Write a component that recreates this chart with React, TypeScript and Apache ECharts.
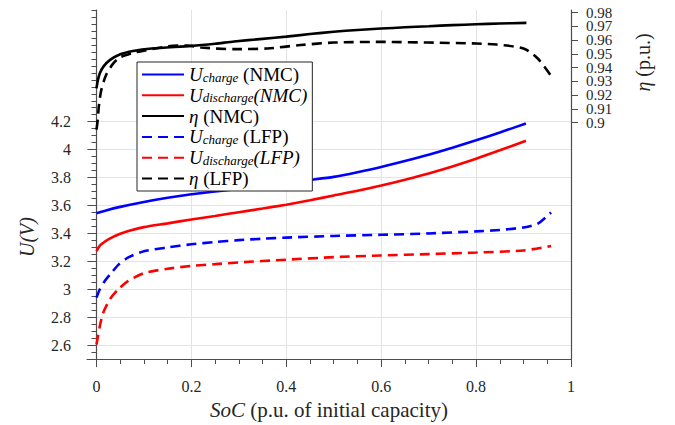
import React, { useEffect, useRef } from "react";
import * as echarts from "echarts";

const FONT = "Liberation Serif, DejaVu Serif, serif";

// ---- data ----
const socChargeNMC = [0, 0.02, 0.05, 0.1, 0.15, 0.2, 0.25, 0.3, 0.35, 0.4, 0.45, 0.5, 0.55, 0.6, 0.65, 0.7, 0.75, 0.8, 0.85, 0.905];
const uChargeNMC = [3.545, 3.565, 3.59, 3.625, 3.655, 3.68, 3.7, 3.72, 3.74, 3.762, 3.783, 3.805, 3.838, 3.875, 3.918, 3.963, 4.013, 4.067, 4.123, 4.187];

const socDischargeNMC = [0, 0.005, 0.01, 0.025, 0.05, 0.075, 0.1, 0.15, 0.2, 0.25, 0.3, 0.35, 0.4, 0.45, 0.5, 0.55, 0.6, 0.65, 0.7, 0.75, 0.8, 0.85, 0.905];
const uDischargeNMC = [3.274, 3.303, 3.322, 3.358, 3.398, 3.425, 3.445, 3.472, 3.5, 3.525, 3.552, 3.578, 3.606, 3.637, 3.672, 3.705, 3.743, 3.785, 3.83, 3.88, 3.935, 3.995, 4.063];

const socEtaNMC = [0, 0.003, 0.007, 0.015, 0.028, 0.05, 0.077, 0.116, 0.2, 0.25, 0.29, 0.35, 0.4, 0.45, 0.5, 0.55, 0.6, 0.65, 0.7, 0.75, 0.8, 0.85, 0.906];
const etaNMC = [0.925, 0.931, 0.936, 0.941, 0.9455, 0.9498, 0.9522, 0.954, 0.9559, 0.9575, 0.9591, 0.961, 0.9626, 0.9645, 0.9662, 0.9675, 0.9685, 0.9694, 0.9702, 0.971, 0.9716, 0.9722, 0.9726];

const socChargeLFP = [0, 0.007, 0.0175, 0.032, 0.046, 0.067, 0.1, 0.15, 0.2, 0.25, 0.3, 0.35, 0.4, 0.5, 0.6, 0.7, 0.8, 0.85, 0.9, 0.93, 0.958];
const uChargeLFP = [2.94, 3.0, 3.06, 3.12, 3.175, 3.228, 3.272, 3.3, 3.322, 3.338, 3.352, 3.362, 3.37, 3.382, 3.39, 3.4, 3.415, 3.425, 3.443, 3.47, 3.55];

const socDischargeLFP = [0, 0.007, 0.014, 0.028, 0.046, 0.067, 0.1, 0.15, 0.2, 0.25, 0.3, 0.4, 0.5, 0.6, 0.7, 0.8, 0.9, 0.958];
const uDischargeLFP = [2.604, 2.736, 2.83, 2.927, 3.0, 3.06, 3.116, 3.147, 3.167, 3.18, 3.192, 3.212, 3.23, 3.242, 3.252, 3.263, 3.278, 3.31];

const socEtaLFP = [0, 0.002, 0.005, 0.01, 0.02, 0.035, 0.05, 0.08, 0.1, 0.15, 0.19, 0.22, 0.29, 0.36, 0.43, 0.5, 0.6, 0.7, 0.8, 0.843, 0.9, 0.93, 0.958];
const etaLFP = [0.895, 0.9, 0.912, 0.9236, 0.9345, 0.943, 0.9476, 0.951, 0.9524, 0.9555, 0.9562, 0.9547, 0.9535, 0.954, 0.9565, 0.9583, 0.9588, 0.9583, 0.9576, 0.9569, 0.954, 0.9467, 0.934];

// ---- ticks ----
const xTickLabels = [0, 0.2, 0.4, 0.6, 0.8, 1];
const uTickLabels = [2.6, 2.8, 3, 3.2, 3.4, 3.6, 3.8, 4, 4.2];
const etaTickLabels = [0.9, 0.91, 0.92, 0.93, 0.94, 0.95, 0.96, 0.97, 0.98];
const etaLabelsEven = [0.9, 0.92, 0.94, 0.96, 0.98];
const etaLabelsOdd = [0.91, 0.93, 0.95, 0.97];
const xMinorTicks = Array.from({ length: 21 }, (_, i) => +(i * 0.05).toFixed(2));
const uMinorTicks = Array.from({ length: 51 }, (_, i) => +(2.5 + i * 0.05).toFixed(2));

const seriesNames = ["UcNMC", "UdNMC", "etaNMC", "UcLFP", "UdLFP", "etaLFP"];
const legendLabels: Record<string, string> = {
  UcNMC: "{u|U}{s|charge} {n|(NMC)}",
  UdNMC: "{u|U}{s|discharge}{u|(NMC)}",
  etaNMC: "{u|η} {n|(NMC)}",
  UcLFP: "{u|U}{s|charge} {n|(LFP)}",
  UdLFP: "{u|U}{s|discharge}{u|(LFP)}",
  etaLFP: "{u|η} {n|(LFP)}",
};

const zip = (xs: number[], ys: number[]) => xs.map((x, i) => [x, ys[i]]);
const fmt = (v: number) => String(+(+v).toFixed(2));

const AXIS_COLOR = "#4d4d4d";
const TEXT_COLOR = "#262626";
const GRID_COLOR = "#e3e3e3";
const DASH = [10, 6];
const ETA_MIN = 0.728;
const ETA_MAX = 0.982;

export default function App() {
  const ref = useRef<HTMLDivElement>(null);
  useEffect(() => {
    if (!ref.current) return;
    const chart = echarts.init(ref.current, undefined, { renderer: "svg" });
    const mk = (name: string, data: number[][], color: string, dashed: boolean, yAxisIndex: number) => ({
      name,
      type: "line",
      data,
      yAxisIndex,
      xAxisIndex: 0,
      symbol: "none",
      showSymbol: false,
      smooth: 0.25,
      color,
      lineStyle: { color, width: 2.6, type: dashed ? DASH : "solid" },
      z: 3,
    });
    const etaLabelStyle = {
      formatter: fmt,
      margin: 15,
      fontSize: 15,
      lineHeight: 13,
      color: TEXT_COLOR,
      fontFamily: FONT,
      showMinLabel: true,
      showMaxLabel: true,
    };
    chart.setOption({
      animation: false,
      backgroundColor: "#fff",
      textStyle: { fontFamily: FONT },
      grid: { left: 87, right: 104, top: 10, bottom: 65.5, containLabel: false },
      legend: {
        orient: "vertical",
        left: 137,
        top: 62,
        padding: [3, 5, 3, 4],
        itemWidth: 42,
        itemHeight: 14,
        itemGap: 1.8,
        backgroundColor: "#fff",
        borderColor: "#262626",
        borderWidth: 1,
        borderRadius: 0,
        itemStyle: { opacity: 0 },
        data: seriesNames,
        formatter: (name: string) => legendLabels[name],
        textStyle: {
          fontFamily: FONT,
          fontSize: 19,
          color: "#000",
          rich: {
            u: { fontStyle: "italic", fontSize: 19, lineHeight: 18, fontFamily: FONT, color: "#000" },
            n: { fontSize: 19, lineHeight: 18, fontFamily: FONT, color: "#000" },
            s: { fontStyle: "italic", fontSize: 13, lineHeight: 12, verticalAlign: "bottom", fontFamily: FONT, color: "#000" },
          },
        },
      },
      xAxis: [
        {
          type: "value",
          min: -0.02,
          max: 1,
          position: "bottom",
          axisLine: { show: true, lineStyle: { color: AXIS_COLOR, width: 1.2 } },
          axisTick: { show: true, customValues: xTickLabels, length: 8, lineStyle: { color: AXIS_COLOR } },
          axisLabel: {
            customValues: xTickLabels,
            formatter: fmt,
            margin: 19,
            fontSize: 16,
            color: TEXT_COLOR,
            fontFamily: FONT,
            showMinLabel: true,
            showMaxLabel: true,
          },
          splitLine: { show: true, lineStyle: { color: GRID_COLOR, width: 1 } },
          name: "{i|SoC} (p.u. of initial capacity)",
          nameLocation: "middle",
          nameGap: 37,
          nameTextStyle: {
            fontSize: 21,
            color: TEXT_COLOR,
            fontFamily: FONT,
            rich: { i: { fontStyle: "italic", fontSize: 21, fontFamily: FONT, color: TEXT_COLOR } },
          },
        },
        {
          type: "value",
          min: -0.02,
          max: 1,
          position: "bottom",
          axisLine: { show: false },
          axisTick: { show: true, customValues: xMinorTicks, length: 5, lineStyle: { color: AXIS_COLOR } },
          axisLabel: { show: false },
          splitLine: { show: false },
        },
      ],
      yAxis: [
        {
          type: "value",
          min: 2.5,
          max: 5,
          position: "left",
          axisLine: { show: true, lineStyle: { color: AXIS_COLOR, width: 1.2 } },
          axisTick: { show: true, customValues: uTickLabels, length: 9, lineStyle: { color: AXIS_COLOR } },
          axisLabel: {
            customValues: uTickLabels,
            formatter: fmt,
            margin: 16,
            fontSize: 16,
            color: TEXT_COLOR,
            fontFamily: FONT,
            showMinLabel: true,
            showMaxLabel: true,
          },
          splitLine: { show: true, lineStyle: { color: GRID_COLOR, width: 1 } },
        },
        {
          type: "value",
          min: 2.5,
          max: 5,
          position: "left",
          axisLine: { show: false },
          axisTick: { show: true, customValues: uMinorTicks, length: 5, lineStyle: { color: AXIS_COLOR } },
          axisLabel: { show: false },
          splitLine: { show: false },
        },
        {
          type: "value",
          min: ETA_MIN,
          max: ETA_MAX,
          position: "right",
          axisLine: { show: true, lineStyle: { color: AXIS_COLOR, width: 1.2 } },
          axisTick: { show: true, customValues: etaTickLabels, length: 7, lineStyle: { color: AXIS_COLOR } },
          axisLabel: { ...etaLabelStyle, customValues: etaLabelsEven },
          splitLine: { show: false },
        },
        {
          type: "value",
          min: ETA_MIN,
          max: ETA_MAX,
          position: "right",
          axisLine: { show: false },
          axisTick: { show: false },
          axisLabel: { ...etaLabelStyle, customValues: etaLabelsOdd },
          splitLine: { show: false },
        },
      ],
      graphic: [
        {
          type: "text",
          x: 27,
          y: 237,
          rotation: Math.PI / 2,
          style: {
            text: "U(V)",
            fontFamily: FONT,
            fontSize: 20,
            fontStyle: "italic",
            fill: TEXT_COLOR,
            textAlign: "center",
            textVerticalAlign: "middle",
          },
        },
        {
          type: "text",
          x: 643,
          y: 62.5,
          rotation: Math.PI / 2,
          style: {
            text: "{i|η} (p.u.)",
            fontFamily: FONT,
            fontSize: 20,
            fill: TEXT_COLOR,
            textAlign: "center",
            textVerticalAlign: "middle",
            rich: { i: { fontStyle: "italic", fontSize: 20, fontFamily: FONT, fill: TEXT_COLOR } },
          },
        },
      ],
      series: [
        mk("UcNMC", zip(socChargeNMC, uChargeNMC), "#0000ff", false, 0),
        mk("UdNMC", zip(socDischargeNMC, uDischargeNMC), "#ff0000", false, 0),
        mk("etaNMC", zip(socEtaNMC, etaNMC), "#000000", false, 2),
        mk("UcLFP", zip(socChargeLFP, uChargeLFP), "#0000ff", true, 0),
        mk("UdLFP", zip(socDischargeLFP, uDischargeLFP), "#ff0000", true, 0),
        mk("etaLFP", zip(socEtaLFP, etaLFP), "#000000", true, 2),
      ],
    });
    return () => chart.dispose();
  }, []);
  return (
    <div
      ref={ref}
      style={{ position: "fixed", left: 0, top: 0, width: 675, height: 425, background: "#fff" }}
    />
  );
}
